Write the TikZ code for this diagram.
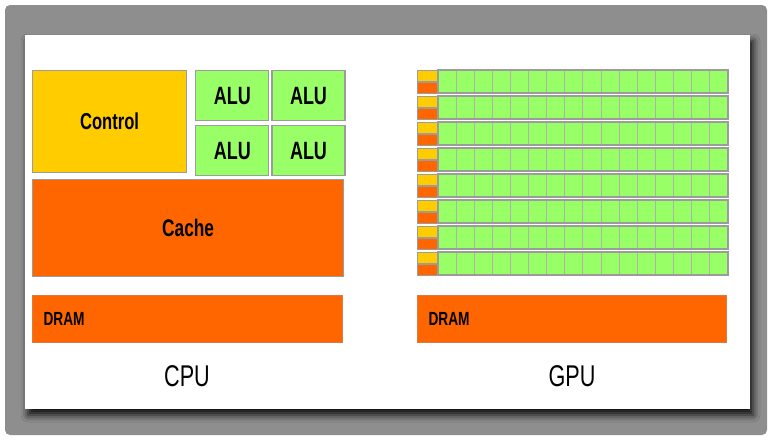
\documentclass[tikz,border=0pt]{standalone}
\usepackage{fontspec}
\setsansfont[FakeStretch=0.72]{Liberation Sans}
\usetikzlibrary{positioning,shadows.blur}
\definecolor{jaune}{HTML}{FFCC00}
\definecolor{orangevif}{HTML}{FF6600}
\definecolor{vertalu}{HTML}{99FF66}
\definecolor{bordure}{HTML}{9C9C9C}
\definecolor{cadre}{HTML}{8E8E8E}
\tikzset{
  bloc/.style={draw=bordure,line width=1.2pt,inner sep=0pt,anchor=north west,
               font=\sffamily\bfseries},
  titre/.style={font=\sffamily\fontsize{30}{32}\selectfont,anchor=base},
}

\begin{document}
\begin{tikzpicture}[x=1pt,y=-1pt,
  ctl/.style={bloc,fill=jaune,minimum width=154pt,minimum height=102pt,
              font=\sffamily\bfseries\fontsize{23}{25}\selectfont},
  alu/.style={bloc,fill=vertalu,minimum width=73pt,minimum height=50pt,
              font=\sffamily\bfseries\fontsize{25}{27}\selectfont},
  cache/.style={bloc,fill=orangevif,minimum width=311pt,minimum height=97pt,
                font=\sffamily\bfseries\fontsize{24}{26}\selectfont},
  dram/.style={bloc,fill=orangevif,draw=orangevif!60!bordure,text width=288pt,
               align=left,inner xsep=11pt,minimum height=47pt,
               font=\sffamily\bfseries\fontsize{19}{21}\selectfont},
  mini/.style={bloc,draw=bordure,line width=0.8pt,minimum width=20pt,minimum height=11pt},
  cellule/.style={bloc,fill=vertalu,draw=bordure!80,line width=0.9pt,
                  minimum width=18.06pt,minimum height=22pt},
  rangee/.style={draw=bordure,line width=1.5pt}]
  \useasboundingbox (0,0) rectangle (772,440);
  % cadre et fond
  \fill[cadre,rounded corners=5pt] (5,5) rectangle (767,435);
  \fill[white,blur shadow={shadow xshift=3pt,shadow yshift=-6pt,
        shadow blur radius=7pt,shadow opacity=90}] (25,35) rectangle (750,409);
  % CPU
  \node[ctl] (ctl) at (32,70) {Control};
  \node[alu,right=8pt of ctl.north east,anchor=north west] (alu1) {ALU};
  \node[alu,right=2pt of alu1] (alu2) {ALU};
  \node[alu,below=4pt of alu1] (alu3) {ALU};
  \node[alu,below=4pt of alu2] (alu4) {ALU};
  \node[cache,below=6pt of ctl.south west,anchor=north west] (cache) {Cache};
  \node[dram] (dramc) at (32,295) {DRAM};
  \node[titre] (cpu) at (187,386) {CPU};
  % GPU
  \foreach \i in {0,...,7}{
    \node[mini,fill=jaune] (ctl-\i) at (417,{70+26*\i}) {};
    \node[mini,fill=orangevif,below=0pt of ctl-\i] (cache-\i) {};
    \foreach \j in {0,...,15}
      \node[cellule] (c-\i-\j) at ({438+18.06*\j},{70+26*\i}) {};
    \draw[rangee] (c-\i-0.north west) rectangle (c-\i-15.south east);
  }
  \node[dram,text width=287pt] (dramg) at (417,295) {DRAM};
  \node[titre] (gpu) at (572,386) {GPU};
\end{tikzpicture}
\end{document}
